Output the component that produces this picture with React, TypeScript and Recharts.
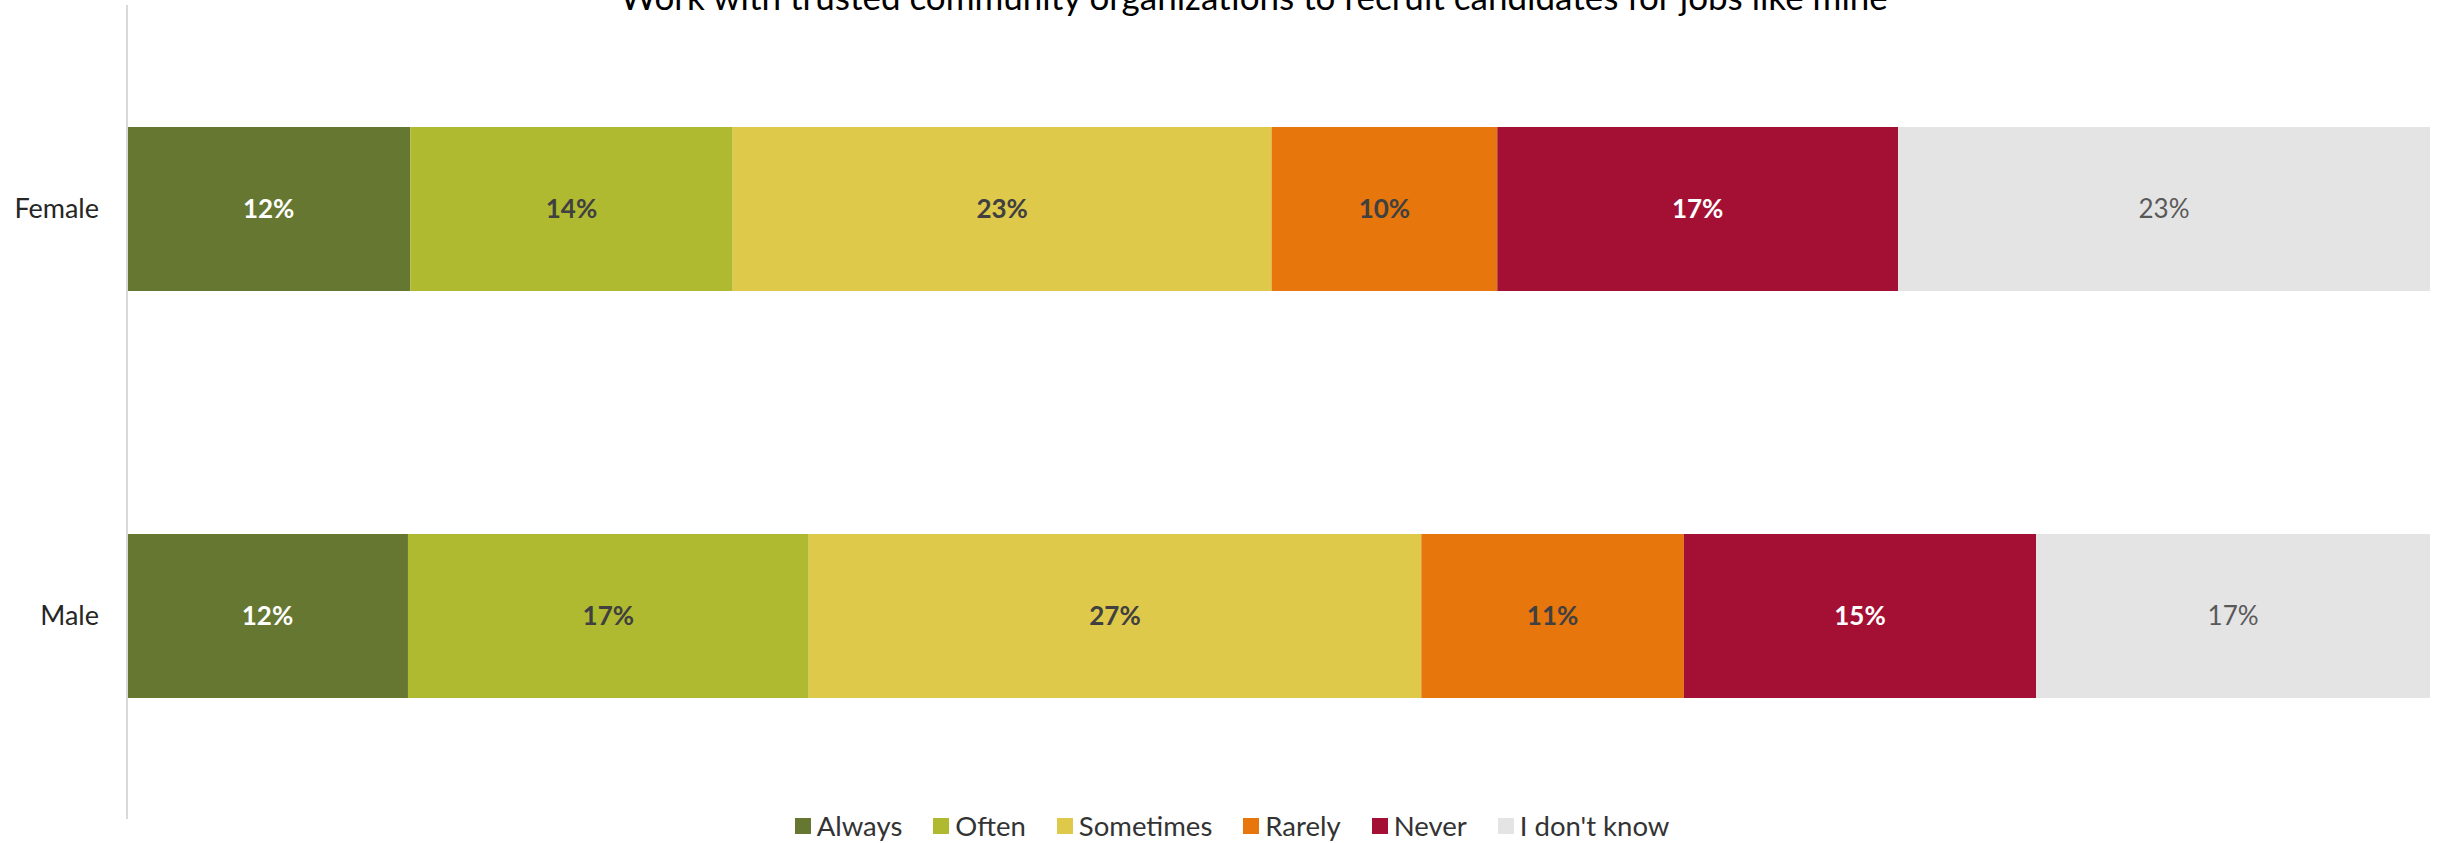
import React from 'react';
import { BarChart, Bar, XAxis, YAxis, Legend, LabelList } from 'recharts';

const FONT = 'Lato, "Open Sans", sans-serif';

const title = 'Work with trusted community organizations to recruit candidates for jobs like mine';
const categories = ['Female', 'Male'];
const seriesNames = ['Always', 'Often', 'Sometimes', 'Rarely', 'Never', "I don't know"];
const seriesKeys = ['always', 'often', 'sometimes', 'rarely', 'never', 'dontKnow'];

// percentages per category (Female, Male)
const always = [12.3, 12.2];
const often = [14.0, 17.4];
const sometimes = [23.4, 26.6];
const rarely = [9.8, 11.4];
const never = [17.4, 15.3];
const dontKnow = [23.1, 17.1];
const seriesValues = [always, often, sometimes, rarely, never, dontKnow];

const colors = ['#667731', '#b0ba31', '#dec94b', '#e7760d', '#a31034', '#e4e4e4'];
const labelColors = ['#ffffff', '#404040', '#404040', '#404040', '#ffffff', '#595959'];
const labelWeights = ['bold', 'bold', 'bold', 'bold', 'bold', 'normal'];

const data = categories.map((name, i) => {
  const row: Record<string, string | number> = { name };
  seriesKeys.forEach((k, j) => { row[k] = seriesValues[j][i]; });
  return row;
});

const renderLegend = () => (
  <ul style={{ listStyle: 'none', margin: 0, padding: '0 0 0 34px', display: 'flex', justifyContent: 'center', gap: 31, fontFamily: FONT, fontSize: 27.5, color: '#333' }}>
    {seriesNames.map((n, i) => (
      <li key={n} style={{ display: 'flex', alignItems: 'center', gap: 6 }}>
        <span style={{ width: 16, height: 16, background: colors[i], display: 'inline-block' }} />
        <span>{n}</span>
      </li>
    ))}
  </ul>
);

const App: React.FC = () => (
  <div style={{ position: 'absolute', left: 0, top: 0, width: 2443, height: 843, background: '#fff' }}>
    <BarChart width={2443} height={843} data={data} layout="vertical" margin={{ top: 5, right: 13, bottom: -9, left: 0 }}>
      <XAxis type="number" domain={[0, 100]} hide />
      <YAxis
        type="category"
        dataKey="name"
        width={127}
        tickLine={false}
        tickSize={0}
        tickMargin={28}
        axisLine={{ stroke: '#d9d9d9', strokeWidth: 2 }}
        tick={{ fontFamily: FONT, fontSize: 27, fill: '#262626' }}
      />
      <Legend verticalAlign="bottom" content={renderLegend} wrapperStyle={{ bottom: 1 }} />
      {seriesKeys.map((k, i) => (
        <Bar key={k} dataKey={k} name={seriesNames[i]} stackId="a" fill={colors[i]} barSize={164} isAnimationActive={false}>
          <LabelList
            dataKey={k}
            position="center"
            formatter={(v: number) => `${Math.round(v)}%`}
            style={{ fontFamily: FONT, fontSize: 26, fontWeight: labelWeights[i], fill: labelColors[i] }}
          />
        </Bar>
      ))}
    </BarChart>
    <svg width={2443} height={40} style={{ position: 'absolute', left: 0, top: 0 }}>
      <text x={1254} y={10} textAnchor="middle" style={{ fontFamily: FONT, fontSize: 35, fill: '#000' }}>{title}</text>
    </svg>
  </div>
);

export default App;
